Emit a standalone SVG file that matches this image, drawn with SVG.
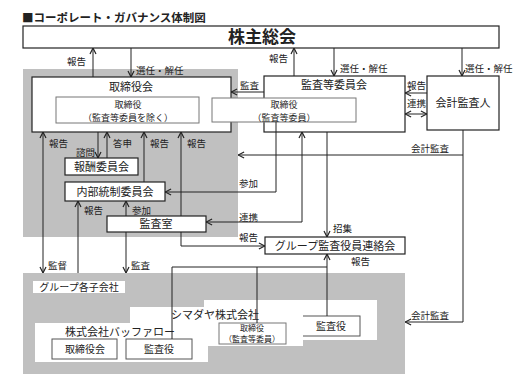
<svg xmlns="http://www.w3.org/2000/svg" width="522" height="391" viewBox="0 0 522 391">
<defs>
<marker id="ar" viewBox="0 0 8 8" refX="7.6" refY="4" markerWidth="8" markerHeight="8" markerUnits="userSpaceOnUse" orient="auto-start-reverse"><path d="M1.5,1 L7.5,4 L1.5,7" fill="none" stroke="#222" stroke-width="1.2"/></marker>
<style>
text{font-family:"Noto Sans CJK JP","Noto Sans CJK SC",sans-serif;fill:#222}
.t{font-size:11px;text-anchor:middle}
.s{font-size:10px;text-anchor:middle}
.m{font-size:9px;text-anchor:middle}
.x{font-size:8px;text-anchor:middle}
.l{font-size:9.5px}
.box{fill:#fff;stroke:#222;stroke-width:1.2}
.inn{fill:#fff;stroke:#777;stroke-width:1}
.sub{fill:#fff;stroke:#555;stroke-width:1}
.gray{fill:#c0c0c0}
.pan{fill:#fff}
.c line,.c polyline{fill:none;stroke:#222;stroke-width:1}
</style>
</defs>
<rect width="522" height="391" fill="#fff"/>
<text x="22" y="22" style="font-size:11.5px;font-weight:bold">■コーポレート・ガバナンス体制図</text>

<rect class="gray" x="23" y="69" width="215" height="168"/>
<rect class="gray" x="23" y="273" width="382" height="101"/>

<g id="shareholders"><rect class="box" x="23" y="26" width="476" height="22"/><text x="262" y="43" style="font-size:17px;font-weight:bold;text-anchor:middle">株主総会</text></g>

<g id="board"><rect class="box" x="32" y="77" width="199" height="55"/><text class="t" x="131" y="91">取締役会</text></g>
<g id="directors"><rect class="inn" x="56" y="97" width="143" height="26"/><text class="m" x="128" y="107.5">取締役</text><text class="m" x="128" y="120.5">（監査等委員を除く）</text></g>

<g id="audit-committee"><rect class="box" x="264" y="76" width="141" height="56"/><text class="t" x="334" y="89">監査等委員会</text></g>
<g id="audit-directors"><rect class="inn" x="212" y="98" width="144" height="24"/><text class="m" x="284" y="107.5">取締役</text><text class="m" x="284" y="120.5">（監査等委員）</text></g>

<g id="accounting-auditor"><rect class="box" x="427" y="76" width="72" height="54"/><text class="t" x="463" y="107">会計監査人</text></g>

<g id="compensation"><rect class="box" x="65" y="158" width="73" height="17"/><text class="t" x="101.5" y="170.5">報酬委員会</text></g>
<g id="internal-control"><rect class="box" x="65" y="182" width="100" height="19"/><text class="t" x="115" y="195.5">内部統制委員会</text></g>
<g id="audit-office"><rect class="box" x="107" y="216" width="99" height="16"/><text class="t" x="156" y="228">監査室</text></g>
<g id="group-liaison"><rect class="box" x="265" y="237" width="140" height="17"/><text class="t" x="335" y="249.5">グループ監査役員連絡会</text></g>

<g id="group-subsidiaries">
<rect class="pan" x="33" y="281" width="92" height="12"/><text class="s" x="79" y="291">グループ各子会社</text>
</g>
<g id="other-company">
<rect class="pan" x="204" y="300" width="173" height="40"/>
<rect class="sub" x="296" y="316" width="64" height="20"/><text class="s" x="331" y="330">監査役</text>
</g>
<g id="shimadaya">
<rect class="pan" x="130" y="307" width="173" height="39"/>
<text class="t" x="215" y="319">シマダヤ株式会社</text>
<rect class="inn" x="219" y="323" width="67" height="21"/><text class="x" x="252" y="330.8">取締役</text><text class="x" x="252" y="342.4">（監査等委員）</text>
</g>
<g id="buffalo">
<rect class="pan" x="35" y="323" width="173" height="39"/>
<text class="t" x="120" y="336">株式会社バッファロー</text>
<rect class="sub" x="52" y="339" width="65" height="20"/><text class="s" x="85" y="352.5">取締役会</text>
<rect class="sub" x="126" y="339" width="66" height="20"/><text class="s" x="159" y="352.5">監査役</text>
</g>

<g class="c" id="connectors">
<line x1="93" y1="77" x2="93" y2="48" marker-end="url(#ar)"/>
<line x1="131" y1="48" x2="131" y2="77" marker-end="url(#ar)"/>
<line x1="294" y1="76" x2="294" y2="48" marker-end="url(#ar)"/>
<line x1="334" y1="48" x2="334" y2="76" marker-end="url(#ar)"/>
<line x1="462" y1="48" x2="462" y2="76" marker-end="url(#ar)"/>
<line x1="264" y1="92" x2="231" y2="92" marker-end="url(#ar)"/>
<line x1="427" y1="93" x2="405" y2="93" marker-end="url(#ar)"/>
<line x1="405" y1="114" x2="427" y2="114" marker-start="url(#ar)" marker-end="url(#ar)"/>
<line x1="43" y1="132" x2="43" y2="273" marker-start="url(#ar)" marker-end="url(#ar)"/>
<line x1="98" y1="132" x2="98" y2="158" marker-end="url(#ar)"/>
<line x1="107" y1="158" x2="107" y2="132" marker-end="url(#ar)"/>
<line x1="144" y1="182" x2="144" y2="132" marker-end="url(#ar)"/>
<line x1="181" y1="216" x2="181" y2="132" marker-end="url(#ar)"/>
<line x1="78" y1="273" x2="78" y2="201" marker-end="url(#ar)"/>
<line x1="126" y1="216" x2="126" y2="201" marker-end="url(#ar)"/>
<line x1="126" y1="232" x2="126" y2="273" marker-end="url(#ar)"/>
<polyline points="276,122 276,192 165,192" marker-end="url(#ar)"/>
<polyline points="206,222 302,222 302,132" marker-start="url(#ar)" marker-end="url(#ar)"/>
<line x1="327" y1="132" x2="327" y2="237" marker-end="url(#ar)"/>
<polyline points="181,232 181,246 265,246" marker-end="url(#ar)"/>
<polyline points="463,130 463,155 238,155" marker-end="url(#ar)"/>
<polyline points="463,155 463,322 405,322" marker-end="url(#ar)"/>
<line x1="327" y1="316" x2="327" y2="254" marker-end="url(#ar)"/>
<polyline points="172,339 172,267 327,267"/>
<line x1="257" y1="267" x2="257" y2="323"/>
</g>

<g id="labels" class="l">
<text x="67" y="65">報告</text>
<text x="136" y="74">選任・解任</text>
<text x="269" y="62">報告</text>
<text x="340" y="72">選任・解任</text>
<text x="465" y="72">選任・解任</text>
<text x="240" y="89">監査</text>
<text x="407" y="89">報告</text>
<text x="407" y="107">連携</text>
<text x="49" y="147">報告</text>
<text x="113" y="147">答申</text>
<text x="150" y="147">報告</text>
<text x="187" y="147">報告</text>
<text x="76" y="156">諮問</text>
<text x="84" y="214">報告</text>
<text x="132" y="214">参加</text>
<text x="239" y="187">参加</text>
<text x="239" y="221">連携</text>
<text x="239" y="241">報告</text>
<text x="333" y="232">招集</text>
<text x="411" y="152">会計監査</text>
<text x="351" y="265">報告</text>
<text x="48" y="269">監督</text>
<text x="131" y="269">監査</text>
<text x="411" y="319">会計監査</text>
</g>
</svg>
